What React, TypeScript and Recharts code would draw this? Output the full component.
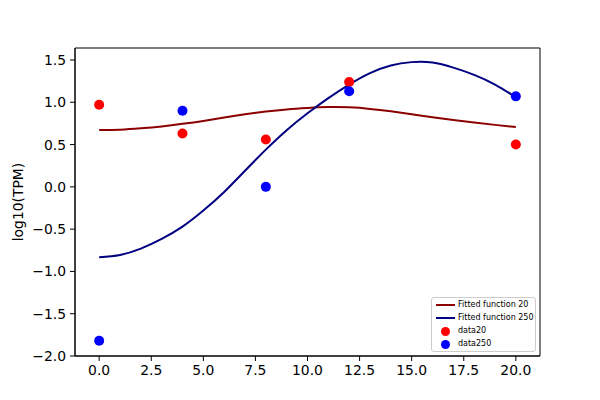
import React from 'react';
import { ComposedChart, Line, Scatter, XAxis, YAxis, ReferenceArea } from 'recharts';

const curveX = [0, 1, 2, 3, 4, 5, 6, 7, 8, 9, 10, 11, 12, 13, 14, 15, 16, 17, 18, 19, 20];
const fit20 = [0.672, 0.676, 0.692, 0.715, 0.745, 0.78, 0.82, 0.858, 0.89, 0.915, 0.932, 0.943, 0.94, 0.922, 0.893, 0.858, 0.822, 0.79, 0.76, 0.733, 0.708];
const fit250 = [-0.833, -0.805, -0.73, -0.615, -0.47, -0.28, -0.06, 0.19, 0.44, 0.67, 0.87, 1.05, 1.21, 1.345, 1.435, 1.475, 1.47, 1.41, 1.325, 1.21, 1.06];

const sampleX = [0, 4, 8, 12, 20];
const data20 = [0.97, 0.63, 0.56, 1.24, 0.50];
const data250 = [-1.82, 0.90, 0.0, 1.13, 1.07];

const xTicks = [0, 2.5, 5, 7.5, 10, 12.5, 15, 17.5, 20];
const yTicks = [-2.0, -1.5, -1.0, -0.5, 0.0, 0.5, 1.0, 1.5];
const xDomain: [number, number] = [-1.16, 21.16];
const yDomain: [number, number] = [-2.0, 1.642];

const line20 = curveX.map((x, i) => ({ x, y: fit20[i] }));
const line250 = curveX.map((x, i) => ({ x, y: fit250[i] }));
const pts20 = sampleX.map((x, i) => ({ x, y: data20[i] }));
const pts250 = sampleX.map((x, i) => ({ x, y: data250[i] }));

const FONT = 'DejaVu Sans';

const dotShape = (color: string) => (props: any) => (
  <circle cx={props.cx} cy={props.cy} r={5} fill={color} />
);

const legendRows = [
  { label: 'Fitted function 20', type: 'line', color: '#8B0000' },
  { label: 'Fitted function 250', type: 'line', color: '#000080' },
  { label: 'data20', type: 'dot', color: '#ff0000' },
  { label: 'data250', type: 'dot', color: '#0000ff' },
];

const LegendBox = () => (
  <div
    style={{
      position: 'absolute',
      left: 431,
      top: 297,
      width: 105,
      height: 55,
      border: '1px solid #cccccc',
      borderRadius: 3,
      background: 'rgba(255,255,255,0.8)',
      boxSizing: 'border-box',
      padding: '1px 0 0 0',
      fontFamily: FONT,
      fontSize: 8,
      lineHeight: '8px',
      color: '#000',
    }}
  >
    {legendRows.map((r) => (
      <div key={r.label} style={{ display: 'flex', alignItems: 'center', height: 12.9 }}>
        <div style={{ width: 26, display: 'flex', justifyContent: 'center' }}>
          {r.type === 'line' ? (
            <div style={{ width: 19, height: 2, background: r.color }} />
          ) : (
            <div style={{ width: 9, height: 9, borderRadius: '50%', background: r.color }} />
          )}
        </div>
        <span style={{ whiteSpace: 'nowrap' }}>{r.label}</span>
      </div>
    ))}
  </div>
);

export default function App() {
  return (
    <div style={{ position: 'absolute', left: 0, top: 0, width: 600, height: 400, background: '#fff' }}>
      <ComposedChart width={600} height={400} margin={{ top: 48, right: 60, bottom: 0, left: 0 }}>
        <XAxis
          type="number"
          dataKey="x"
          domain={xDomain}
          ticks={xTicks}
          allowDataOverflow
          tickFormatter={(v: number) => v.toFixed(1)}
          height={44}
          tickSize={5}
          tickMargin={4}
          stroke="#000"
          tick={{ fill: '#000', fontFamily: FONT, fontSize: 13.9 }}
          interval={0}
        />
        <YAxis
          type="number"
          dataKey="y"
          domain={yDomain}
          ticks={yTicks}
          allowDataOverflow
          tickFormatter={(v: number) => (v < 0 ? '\u2212' + Math.abs(v).toFixed(1) : v.toFixed(1))}
          width={75}
          tickSize={5}
          tickMargin={4}
          stroke="#000"
          tick={{ fill: '#000', fontFamily: FONT, fontSize: 13.9 }}
          interval={0}
          label={() => (
            <text
              x={18}
              y={202}
              transform="rotate(-90,18,202)"
              textAnchor="middle"
              dominantBaseline="central"
              fontFamily={FONT}
              fontSize={13.9}
              fill="#000"
            >
              log10(TPM)
            </text>
          )}
        />
        <ReferenceArea
          x1={xDomain[0]}
          x2={xDomain[1]}
          y1={yDomain[0]}
          y2={yDomain[1]}
          fill="none"
          fillOpacity={0}
          stroke="#000"
          strokeWidth={1}
          ifOverflow="visible"
        />
        <Line
          data={line20}
          dataKey="y"
          type="natural"
          stroke="#8B0000"
          strokeWidth={2}
          dot={false}
          activeDot={false}
          isAnimationActive={false}
        />
        <Line
          data={line250}
          dataKey="y"
          type="natural"
          stroke="#000080"
          strokeWidth={2}
          dot={false}
          activeDot={false}
          isAnimationActive={false}
        />
        <Scatter data={pts20} dataKey="y" shape={dotShape('#ff0000')} isAnimationActive={false} />
        <Scatter data={pts250} dataKey="y" shape={dotShape('#0000ff')} isAnimationActive={false} />
      </ComposedChart>
      <LegendBox />
    </div>
  );
}
